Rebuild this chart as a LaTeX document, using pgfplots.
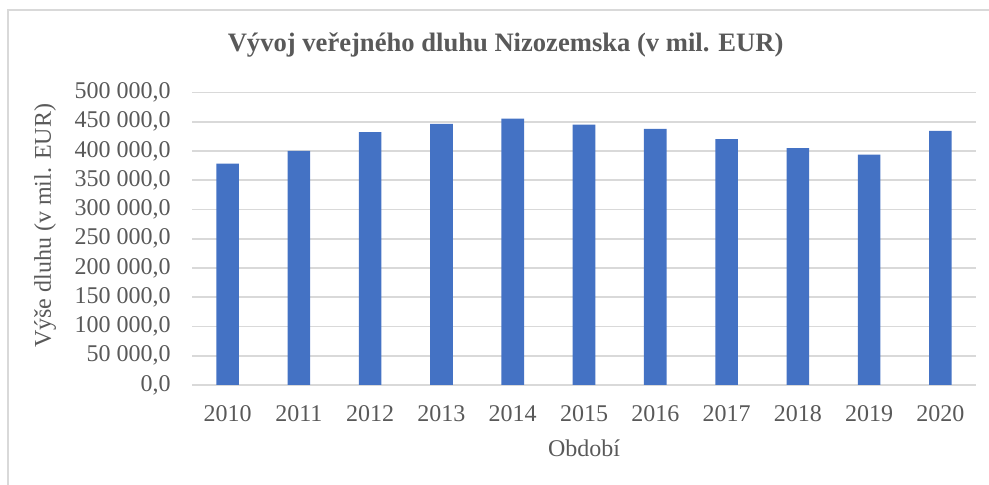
\documentclass[border=0pt]{standalone}
\usepackage{pgfplots}
\pgfplotsset{compat=1.18}
\usepackage{fontspec}
\setmainfont{Liberation Serif}
\definecolor{txt}{HTML}{595959}
\definecolor{grid}{HTML}{D9D9D9}
\definecolor{bar}{HTML}{4472C4}
\begin{document}
\begin{tikzpicture}
\useasboundingbox (0,0) rectangle (494.5pt,242.5pt);
\draw[grid, line width=1pt] (4pt,0) -- (4pt,237.5pt) -- (494.5pt,237.5pt);
\begin{axis}[
  at={(96pt,50pt)}, anchor=south west,
  scale only axis, width=392pt, height=146.25pt,
  xmin=-0.5, xmax=10.5, ymin=0, ymax=500000,
  axis line style={draw=none},
  ytick={0,50000,...,500000},
  xtick={0,...,10},
  xticklabels={2010,2011,2012,2013,2014,2015,2016,2017,2018,2019,2020},
  major tick length=0pt,
  ymajorgrids=true, xmajorgrids=false,
  y grid style={grid, line width=0.9pt},
  scaled y ticks=false,
  /pgf/number format/.cd, fixed, fixed zerofill, precision=1, use comma, 1000 sep={\ }, assume math mode=true,
  /pgfplots/.cd,
  ticklabel style={font=\fontsize{12}{14}\selectfont, text=txt},
  yticklabel style={anchor=east, inner sep=0pt, xshift=-10.5pt},
  xticklabel style={anchor=center, inner sep=0pt, yshift=-14.25pt},
  title={Vývoj veřejného dluhu Nizozemska (v mil. EUR)},
  title style={at={(0.4,1)}, anchor=center, yshift=17.75pt, font=\fontsize{13.3}{15}\selectfont\bfseries, text=txt},
  xlabel={Období},
  xlabel style={at={(0.5,-0.215)}, anchor=center, font=\fontsize{12}{14}\selectfont, text=txt},
  ylabel={Výše dluhu (v mil. EUR)},
  ylabel style={at={(-0.1875,0.544)}, anchor=center, font=\fontsize{12}{14}\selectfont, text=txt},
  clip=false,
]
\addplot[ybar, bar width=11.3pt, fill=bar, draw=none] coordinates {
(0,378500) (1,400200) (2,432100) (3,446200) (4,455300) (5,445100)
(6,437700) (7,420100) (8,404800) (9,393900) (10,434300)
};
\end{axis}
\end{tikzpicture}
\end{document}
